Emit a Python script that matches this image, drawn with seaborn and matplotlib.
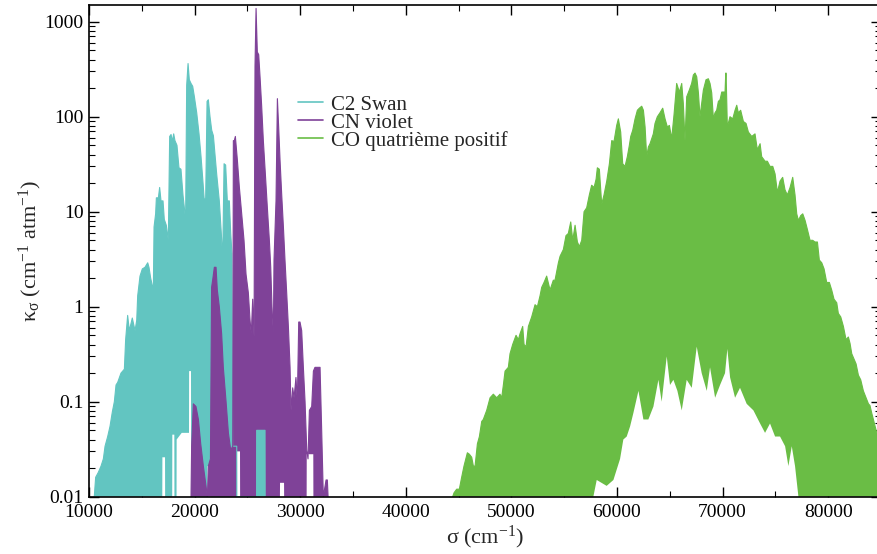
import numpy as np
import matplotlib
matplotlib.use("Agg")
import matplotlib.pyplot as plt
from matplotlib.ticker import FixedLocator, MultipleLocator, LogLocator, NullFormatter
import seaborn as sns

# envelopes of the three band systems (sigma in cm-1, kappa in cm-1 atm-1)
c2_sigma_top = [10500, 10630, 10880, 11140, 11360, 11520, 11770, 11990, 12210, 12400,
                12560, 12720, 13030, 13350, 13470, 13660, 13820, 14100, 14360, 14520,
                14610, 14830, 15050, 15300, 15560, 15680, 15840, 16030, 16090, 16160,
                16310, 16380, 16570, 16690, 16820, 17010, 17130, 17320, 17510, 17640,
                17770, 17890, 18020, 18140, 18330, 18520, 18710, 18900, 19030, 19150,
                19250, 19380, 19500, 19660, 19820, 19980, 20200, 20420, 20610, 20800,
                20920, 21050, 21180, 21300, 21460, 21620, 21780, 22090, 22340, 22530,
                22660, 22790, 22940, 23100, 23290, 23420, 23540, 23600, 23990, 24000,
                25870, 25880, 26670, 26680]
c2_kappa_top = [0.010, 0.016, 0.018, 0.021, 0.025, 0.034, 0.043, 0.055, 0.078, 0.10,
                0.15, 0.16, 0.20, 0.22, 0.45, 0.81, 0.56, 0.76, 0.56, 0.72,
                1.3, 2.1, 2.5, 2.6, 2.9, 2.6, 2.0, 1.6, 1.4, 6.9,
                9.5, 14, 14, 18, 13, 13, 8.3, 7.2, 5.0, 62,
                65, 55, 66, 56, 50, 29, 28, 15, 11, 8.1,
                214, 363, 245, 224, 209, 162, 110, 66, 38, 20,
                13, 14, 145, 151, 100, 72, 63, 25, 13, 5.9,
                3.1, 32, 31, 13, 13, 5.9, 3.6, 0.034, 0.034, 0.010,
                0.010, 0.05, 0.05, 0.010]
c2_sigma_bot = [10500, 16940, 16950, 17200, 17210, 17880, 17890, 18080, 18090, 18290,
                18300, 18780, 19470, 19480, 19660, 19670, 21200, 21210, 21520, 21530, 26680]
c2_kappa_bot = [0.010, 0.010, 0.026, 0.026, 0.010, 0.010, 0.045, 0.045, 0.010, 0.010,
                0.040, 0.047, 0.047, 0.21, 0.21, 0.010, 0.010, 0.021, 0.021, 0.010, 0.010]

cn_sigma_top = [19660, 19720, 19880, 20130, 20360, 20580, 20830, 21080, 21210, 21300,
                21500, 21610, 21710, 21870, 22030, 22150, 22340, 22560, 22720, 22980,
                23200, 23420, 23610, 23670, 23760, 23860, 24050, 24240, 24460, 24680,
                24870, 25090, 25250, 25370, 25500, 25630, 25720, 25820, 25940, 26070,
                26200, 26350, 26510, 26700, 26890, 27080, 27210, 27330, 27460, 27520,
                27710, 27840, 27960, 28090, 28250, 28410, 28560, 28720, 28880, 29040,
                29130, 29290, 29420, 29600, 29730, 29860, 29980, 30140, 30300, 30460,
                30620, 30740, 30870, 31090, 31250, 31400, 31560, 31720, 31880, 32040,
                32190, 32450, 32570, 32640]
cn_kappa_top = [0.010, 0.034, 0.095, 0.089, 0.065, 0.036, 0.021, 0.013, 0.010, 0.021,
                0.025, 1.6, 1.9, 2.6, 2.6, 1.5, 1.0, 0.52, 0.23, 0.10,
                0.047, 0.031, 0.034, 56, 56, 62, 35, 18, 9.5, 5.0,
                2.2, 1.4, 0.72, 0.52, 1.2, 0.48, 340, 1380, 480, 450,
                260, 130, 56, 25, 11, 5.0, 2.6, 1.0, 0.52, 3.1,
                13, 155, 78, 35, 15, 6.9, 3.1, 1.4, 0.62, 0.23,
                0.081, 0.14, 0.11, 0.18, 0.10, 0.69, 0.69, 0.56, 0.23, 0.10,
                0.031, 0.025, 0.081, 0.089, 0.21, 0.23, 0.23, 0.23, 0.23, 0.047,
                0.010, 0.015, 0.015, 0.010]
cn_sigma_bot = [19660, 23990, 24000, 24300, 24310, 25870, 25880, 26670, 26680, 28080,
                28090, 28470, 28480, 30610, 30620, 31240, 31250, 32640]
cn_kappa_bot = [0.010, 0.010, 0.030, 0.030, 0.010, 0.010, 0.05, 0.05, 0.010, 0.010,
                0.014, 0.014, 0.010, 0.010, 0.028, 0.028, 0.010, 0.010]

co_sigma_top = [44440, 44570, 44820, 45070, 45290, 45510, 45830, 46020, 46240, 46400,
                46560, 46780, 46970, 47190, 47340, 47660, 47980, 48290, 48610, 48920,
                49080, 49240, 49400, 49710, 49870, 50120, 50440, 50660, 50820, 51070,
                51200, 51390, 51610, 51920, 52240, 52460, 52710, 52870, 53090, 53340,
                53660, 53970, 54130, 54450, 54610, 54920, 55170, 55390, 55620, 55810,
                56030, 56250, 56440, 56660, 56880, 57130, 57380, 57600, 57830, 58020,
                58140, 58330, 58550, 58770, 59030, 59280, 59500, 59720, 59970, 60130,
                60350, 60540, 60760, 60980, 61170, 61300, 61490, 61710, 61930, 62120,
                62340, 62500, 62660, 62810, 62970, 63130, 63440, 63600, 63820, 64070,
                64330, 64550, 64770, 64960, 65180, 65400, 65650, 65910, 66130, 66280,
                66440, 66600, 66850, 67070, 67230, 67390, 67550, 67710, 67860, 68020,
                68180, 68430, 68650, 68810, 68970, 69130, 69280, 69440, 69600, 69760,
                69920, 70070, 70230, 70300, 70330, 70450, 70700, 70960, 71180, 71340,
                71490, 71710, 71970, 72220, 72440, 72760, 73070, 73290, 73550, 73700,
                74020, 74240, 74490, 74750, 74970, 75190, 75440, 75690, 75910, 76130,
                76390, 76640, 76860, 77020, 77180, 77400, 77590, 77810, 78030, 78280,
                78530, 78750, 78980, 79160, 79390, 79610, 79860, 80110, 80330, 80550,
                80810, 80960, 81190, 81440, 81690, 81910, 82070, 82230, 82390, 82640,
                82860, 83080, 83330, 83590, 83810, 83960, 84120, 84280, 84440, 84600,
                85000]
co_kappa_top = [0.010, 0.011, 0.012, 0.012, 0.016, 0.021, 0.029, 0.028, 0.026, 0.021,
                0.021, 0.036, 0.043, 0.062, 0.065, 0.081, 0.11, 0.12, 0.11, 0.12,
                0.11, 0.15, 0.21, 0.23, 0.32, 0.40, 0.50, 0.45, 0.52, 0.62,
                0.40, 0.38, 0.62, 0.78, 1.05, 1.0, 1.3, 1.6, 1.8, 2.1,
                1.5, 1.9, 1.9, 2.9, 3.4, 4.0, 5.6, 5.9, 7.8, 5.0,
                7.2, 4.8, 4.3, 5.0, 10, 11, 15, 19, 18, 22,
                29, 28, 12, 15, 21, 32, 56, 55, 81, 95,
                69, 32, 30, 38, 50, 62, 72, 95, 117, 123,
                129, 117, 78, 38, 48, 52, 66, 85, 100, 110,
                123, 95, 78, 81, 59, 105, 224, 182, 224, 138,
                56, 162, 191, 224, 275, 288, 263, 178, 100, 138,
                191, 245, 251, 224, 178, 95, 110, 117, 145, 151,
                182, 182, 182, 288, 288, 78, 100, 95, 117, 132,
                110, 117, 89, 85, 69, 62, 66, 45, 52, 38,
                34, 34, 30, 30, 25, 16, 21, 23, 17, 15,
                18, 23, 15, 9.5, 8.1, 9.1, 9.5, 8.1, 6.5, 5.0,
                5.0, 4.8, 4.8, 3.1, 2.9, 2.5, 1.8, 1.8, 1.5, 1.2,
                1.1, 0.85, 0.78, 0.62, 0.45, 0.48, 0.41, 0.32, 0.29, 0.25,
                0.19, 0.17, 0.13, 0.11, 0.095, 0.091, 0.076, 0.065, 0.055, 0.047,
                0.040]
co_sigma_bot = [44440, 57760, 58080, 59020, 59660, 60290, 60600, 60920, 61240, 61550,
                62030, 62500, 62970, 63450, 63920, 64230, 64710, 65020, 65340, 65720,
                66130, 66600, 67080, 67550, 68020, 68500, 68810, 69290, 69760, 70230,
                70450, 70710, 71180, 71650, 72280, 72920, 73550, 74020, 74490, 74970,
                75440, 75920, 76230, 76550, 76860, 77180, 85000]
co_kappa_bot = [0.010, 0.010, 0.015, 0.013, 0.015, 0.025, 0.040, 0.043, 0.055, 0.076,
                0.13, 0.065, 0.065, 0.089, 0.17, 0.10, 0.30, 0.15, 0.17, 0.13,
                0.081, 0.17, 0.14, 0.38, 0.20, 0.13, 0.23, 0.11, 0.15, 0.20,
                0.36, 0.18, 0.11, 0.14, 0.095, 0.081, 0.059, 0.047, 0.059, 0.043,
                0.043, 0.034, 0.021, 0.034, 0.021, 0.010, 0.010]

band_names = ["C2 Swan", "CN violet", "CO quatrième positif"]
band_colors = ["#62c5c1", "#7f4298", "#6abd45"]

x_ticks = [10000, 20000, 30000, 40000, 50000, 60000, 70000, 80000]
y_ticks = [0.01, 0.1, 1, 10, 100, 1000]
y_tick_labels = ["0.01", "0.1", "1", "10", "100", "1000"]

sns.set_theme(style="ticks")
plt.rcParams["font.family"] = ["Liberation Serif", "DejaVu Serif"]
plt.rcParams["mathtext.fontset"] = "custom"
plt.rcParams["mathtext.rm"] = "Liberation Serif"
plt.rcParams["mathtext.it"] = "Liberation Serif"
plt.rcParams["mathtext.bf"] = "Liberation Serif:bold"

fig = plt.figure(figsize=(8.78, 5.54), dpi=100)
ax = fig.add_axes([89 / 878, 57.3 / 554, 792 / 878, 491.7 / 554])

bands = [
    (c2_sigma_top, c2_kappa_top, c2_sigma_bot, c2_kappa_bot),
    (cn_sigma_top, cn_kappa_top, cn_sigma_bot, cn_kappa_bot),
    (co_sigma_top, co_kappa_top, co_sigma_bot, co_kappa_bot),
]
for (st, kt, sb, kb), name, col in zip(bands, band_names, band_colors):
    xs = np.concatenate([st, sb[::-1]])
    ys = np.concatenate([kt, kb[::-1]])
    ax.fill(xs, ys, color=col, lw=0)
    sns.lineplot(x=st, y=kt, color=col, linewidth=0.8, label=name, ax=ax,
                 estimator=None, sort=False)

ax.set_yscale("log")
ax.set_xlim(10000, 85000)
ax.set_ylim(0.01, 1500)

ax.xaxis.set_major_locator(FixedLocator(x_ticks))
ax.xaxis.set_minor_locator(MultipleLocator(5000))
ax.set_xticklabels([str(t) for t in x_ticks])
ax.yaxis.set_major_locator(FixedLocator(y_ticks))
ax.yaxis.set_minor_locator(LogLocator(base=10, subs=np.arange(2, 10)))
ax.yaxis.set_minor_formatter(NullFormatter())
ax.set_yticklabels(y_tick_labels)

ax.tick_params(which="both", direction="in", top=True, right=True, colors="black",
               labelsize=14)
ax.tick_params(which="major", length=7, width=1)
ax.tick_params(which="minor", length=4, width=0.8)
ax.tick_params(axis="y", pad=4)
ax.tick_params(axis="x", pad=5)
for sp in ax.spines.values():
    sp.set_linewidth(1.2)
    sp.set_color("black")

ax.set_xlabel(r"σ (cm$^{-1}$)", fontsize=16, labelpad=2)
ax.set_ylabel(r"κ$_{σ}$ (cm$^{-1}$ atm$^{-1}$)", fontsize=16, labelpad=0)

leg = ax.legend(loc="upper left", bbox_to_anchor=((298 - 89) / 792, (496.7 - 95) / 491.7),
                frameon=False, fontsize=15, handlelength=1.2, handletextpad=0.4,
                labelspacing=-0.08, borderpad=0, borderaxespad=0)
for line in leg.get_lines():
    line.set_linewidth(1.2)

fig.savefig("out.png", dpi=100)
